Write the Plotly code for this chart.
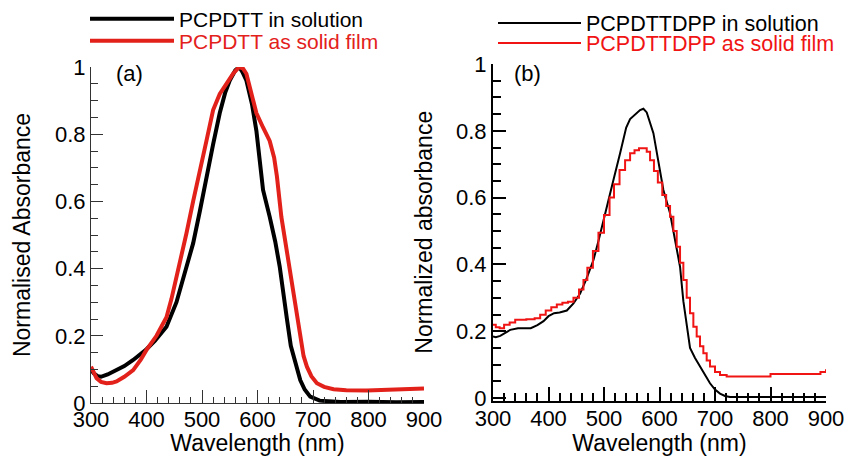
import plotly.graph_objects as go

# ---------------- data ----------------
# Panel (a): PCPDTT
wl_a_sol = [300, 305, 312, 318, 330, 346, 360, 376, 390, 400, 415, 436, 454, 470, 484, 496, 508,
            520, 532, 542, 550, 560, 567, 573, 580, 590, 598, 604, 610, 622, 632, 640, 647, 653,
            660, 665, 670, 677, 685, 695, 712, 750, 800, 850, 900]
abs_a_sol = [0.100, 0.088, 0.080, 0.078, 0.085, 0.098, 0.110, 0.128, 0.145, 0.160, 0.185, 0.227,
             0.300, 0.390, 0.475, 0.570, 0.674, 0.770, 0.863, 0.925, 0.960, 0.990, 1.000, 0.985,
             0.960, 0.890, 0.810, 0.720, 0.634, 0.554, 0.480, 0.406, 0.310, 0.250, 0.170, 0.140,
             0.105, 0.068, 0.040, 0.019, 0.007, 0.003, 0.004, 0.002, 0.003]

wl_a_film = [300, 305, 310, 318, 328, 338, 346, 360, 376, 390, 400, 418, 436, 445, 458, 472, 484,
             496, 508, 520, 532, 544, 556, 567, 574, 580, 590, 598, 610, 622, 630, 635, 643, 650,
             658, 664, 670, 677, 683, 689, 697, 707, 720, 737, 760, 797, 840, 870, 900]
abs_a_film = [0.108, 0.090, 0.074, 0.063, 0.059, 0.060, 0.064, 0.078, 0.098, 0.130, 0.158, 0.200,
              0.255, 0.310, 0.400, 0.505, 0.600, 0.685, 0.780, 0.872, 0.920, 0.950, 0.980, 1.000,
              0.995, 0.980, 0.920, 0.863, 0.820, 0.780, 0.730, 0.674, 0.554, 0.480, 0.406, 0.330,
              0.268, 0.187, 0.140, 0.108, 0.080, 0.059, 0.048, 0.041, 0.038, 0.037, 0.039, 0.041,
              0.043]

# Panel (b): PCPDTTDPP
wl_b_sol = [300, 305, 313, 322, 331, 345, 368, 380, 391, 400, 410, 420, 433, 445, 457, 468, 481,
            490, 499, 508, 517, 529, 540, 547, 557, 565, 571, 577, 589, 598, 607, 619, 628, 637,
            643, 655, 664, 673, 682, 691, 700, 709, 718, 727, 800, 900]
abs_b_sol = [0.184, 0.182, 0.186, 0.196, 0.204, 0.209, 0.209, 0.218, 0.230, 0.245, 0.254, 0.256,
             0.262, 0.283, 0.313, 0.355, 0.413, 0.470, 0.533, 0.595, 0.653, 0.733, 0.810, 0.835,
             0.850, 0.862, 0.866, 0.855, 0.793, 0.710, 0.623, 0.553, 0.475, 0.393, 0.290, 0.150,
             0.120, 0.094, 0.068, 0.044, 0.025, 0.013, 0.006, 0.003, 0.003, 0.003]

wl_b_film = [300, 305, 312, 320, 330, 340, 360, 375, 385, 395, 405, 415, 425, 435, 445, 455, 463,
             470, 480, 490, 500, 510, 518, 528, 538, 547, 555, 563, 570, 577, 583, 590, 597, 605,
             612, 619, 625, 631, 637, 643, 649, 655, 661, 667, 673, 679, 685, 691, 700, 709, 721,
             800, 883, 890, 900]
abs_b_film = [0.219, 0.212, 0.209, 0.219, 0.226, 0.234, 0.236, 0.239, 0.249, 0.262, 0.272, 0.280,
              0.285, 0.288, 0.300, 0.325, 0.353, 0.390, 0.440, 0.495, 0.548, 0.600, 0.640, 0.683,
              0.712, 0.733, 0.742, 0.748, 0.748, 0.737, 0.712, 0.680, 0.645, 0.608, 0.575, 0.543,
              0.500, 0.453, 0.405, 0.353, 0.300, 0.254, 0.213, 0.184, 0.155, 0.134, 0.112, 0.094,
              0.078, 0.069, 0.064, 0.072, 0.072, 0.078, 0.086]

x_ticks = [300, 400, 500, 600, 700, 800, 900]
x_tick_labels = ["300", "400", "500", "600", "700", "800", "900"]
y_ticks = [0, 0.2, 0.4, 0.6, 0.8, 1]
y_tick_labels = ["0", "0.2", "0.4", "0.6", "0.8", "1"]

names = ["PCPDTT in solution", "PCPDTT as solid film",
         "PCPDTTDPP in solution", "PCPDTTDPP as solid film"]

# ---------------- styling ----------------
W, H = 847, 456
FONT = "Liberation Sans, Arial, sans-serif"
RED_A = "#e3211b"
RED_B = "#f01414"


def px_x(p):
    return p / W


def px_y(p):
    return 1 - p / H


fig = go.Figure()
fig.add_trace(go.Scatter(x=wl_a_sol, y=abs_a_sol, mode="lines", name=names[0],
                         line=dict(color="black", width=4), xaxis="x", yaxis="y",
                         legend="legend"))
fig.add_trace(go.Scatter(x=wl_a_film, y=abs_a_film, mode="lines", name=names[1],
                         line=dict(color=RED_A, width=4), xaxis="x", yaxis="y",
                         legend="legend2"))
fig.add_trace(go.Scatter(x=wl_b_sol, y=abs_b_sol, mode="lines", name=names[2],
                         line=dict(color="black", width=2), xaxis="x2", yaxis="y2",
                         legend="legend3"))
fig.add_trace(go.Scatter(x=wl_b_film, y=abs_b_film, mode="lines", name=names[3],
                         line=dict(color=RED_B, width=2, shape="hv"), xaxis="x2", yaxis="y2",
                         legend="legend4"))


def xaxis(domain, anchor, color, lw, tl, mtl):
    return dict(domain=domain, anchor=anchor, range=[300, 900], tickmode="array",
                tickvals=x_ticks, ticktext=x_tick_labels, showgrid=False, zeroline=False,
                showline=True, linecolor=color, linewidth=lw, ticks="inside", ticklen=tl,
                tickwidth=lw, tickcolor=color, automargin=False, ticklabelstandoff=-3,
                minor=dict(dtick=20, ticks="inside", ticklen=mtl, tickwidth=lw, tickcolor=color,
                           showgrid=False),
                tickfont=dict(size=22, color="black", family=FONT),
                title=dict(text="Wavelength (nm)", font=dict(size=23, color="black", family=FONT),
                           standoff=2))


def yaxis(domain, anchor, rng, color, lw, tl, mtl, title):
    return dict(domain=domain, anchor=anchor, range=rng, tickmode="array", tickvals=y_ticks,
                ticktext=y_tick_labels, showgrid=False, zeroline=False, showline=True,
                linecolor=color, linewidth=lw, ticks="inside", ticklen=tl, tickwidth=lw,
                tickcolor=color, automargin=False,
                minor=dict(dtick=0.05, ticks="inside", ticklen=mtl, tickwidth=lw,
                           tickcolor=color, showgrid=False),
                tickfont=dict(size=22, color="black", family=FONT),
                title=dict(text=title, font=dict(size=23, color="black", family=FONT),
                           standoff=17))


fig.update_layout(
    width=W, height=H, margin=dict(l=0, r=0, t=0, b=0, autoexpand=False),
    paper_bgcolor="white", plot_bgcolor="white",
    font=dict(family=FONT, color="black"),
    xaxis=xaxis([px_x(91), px_x(424)], "y", "#333333", 1, 13, 6),
    yaxis=yaxis([px_y(403), px_y(67)], "x", [0, 1], "#333333", 1, 12, 7,
                "Normalised Absorbance"),
    xaxis2=xaxis([px_x(493), px_x(826)], "y2", "black", 2, 14, 8),
    yaxis2=yaxis([px_y(400.5), px_y(64)], "x2", [-0.0075, 1], "black", 2, 13, 8,
                 "Normalized absorbance"),
    showlegend=True,
)

leg_common = dict(xanchor="left", yanchor="middle", bgcolor="rgba(0,0,0,0)",
                  borderwidth=0, tracegroupgap=0)
fig.update_layout(
    legend=dict(x=px_x(85), y=px_y(19), itemwidth=84,
                font=dict(size=21, color="black", family=FONT), **leg_common),
    legend2=dict(x=px_x(85), y=px_y(41), itemwidth=84,
                 font=dict(size=21, color=RED_A, family=FONT), **leg_common),
    legend3=dict(x=px_x(493), y=px_y(23), itemwidth=83,
                 font=dict(size=21.5, color="black", family=FONT), **leg_common),
    legend4=dict(x=px_x(493), y=px_y(43), itemwidth=83,
                 font=dict(size=21.5, color=RED_B, family=FONT), **leg_common),
)

fig.add_annotation(text="(a)", x=px_x(129), y=px_y(73), xref="paper", yref="paper",
                   xanchor="center", yanchor="middle", showarrow=False,
                   font=dict(size=22, color="black", family=FONT))
fig.add_annotation(text="(b)", x=px_x(527), y=px_y(73), xref="paper", yref="paper",
                   xanchor="center", yanchor="middle", showarrow=False,
                   font=dict(size=22, color="black", family=FONT))

fig.write_html("out.html", config={"displayModeBar": False},
               post_script="document.body.style.margin='0px';"
                           "document.body.style.overflow='hidden';")
